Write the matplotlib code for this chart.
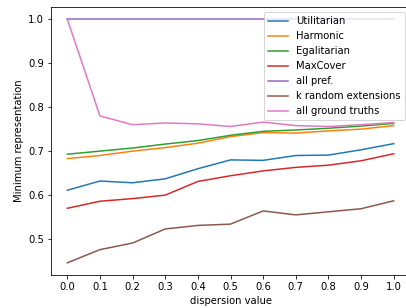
import matplotlib
matplotlib.use("Agg")
import matplotlib.pyplot as plt

dispersion = [0.0, 0.1, 0.2, 0.3, 0.4, 0.5, 0.6, 0.7, 0.8, 0.9, 1.0]

utilitarian = [0.611, 0.632, 0.628, 0.637, 0.660, 0.680, 0.679, 0.690, 0.691, 0.703, 0.717]
harmonic = [0.683, 0.690, 0.700, 0.708, 0.718, 0.733, 0.742, 0.741, 0.746, 0.750, 0.758]
egalitarian = [0.693, 0.700, 0.707, 0.716, 0.724, 0.736, 0.745, 0.748, 0.752, 0.757, 0.763]
maxcover = [0.570, 0.586, 0.592, 0.600, 0.631, 0.644, 0.655, 0.663, 0.668, 0.678, 0.694]
all_pref = [1.0] * 11
k_random = [0.446, 0.476, 0.491, 0.523, 0.531, 0.534, 0.564, 0.555, 0.562, 0.569, 0.587]
all_ground = [1.0, 0.780, 0.760, 0.764, 0.762, 0.756, 0.766, 0.758, 0.756, 0.760, 0.765]

series = [
    ("Utilitarian", utilitarian),
    ("Harmonic", harmonic),
    ("Egalitarian", egalitarian),
    ("MaxCover", maxcover),
    ("all pref.", all_pref),
    ("k random extensions", k_random),
    ("all ground truths", all_ground),
]

fig = plt.figure(figsize=(406 / 72, 308 / 72), dpi=72)
ax = fig.add_axes([51 / 406, 33 / 308, 359 / 406, 268 / 308])

for name, vals in series:
    ax.plot(dispersion, vals, label=name)

ax.set_xticks(dispersion)
ax.set_xlabel("dispersion value")
ax.set_ylabel("Minimum representation")
ax.legend(loc="upper right")

fig.savefig("out.png", dpi=72)
